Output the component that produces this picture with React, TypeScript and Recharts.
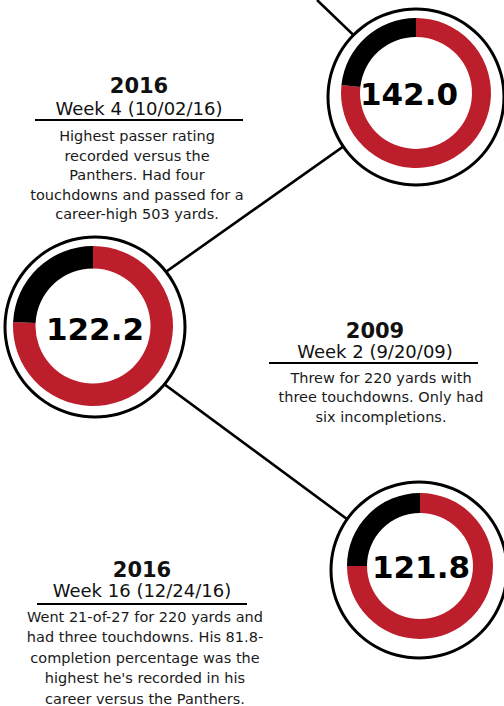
import React from 'react';
import { LineChart, Line, XAxis, YAxis, PieChart, Pie, Cell, Label } from 'recharts';

const W = 504;
const H = 706;

// Passer ratings shown inside the rings, top to bottom
const ratings = ['142.0', '122.2', '121.8'];
const redShare = [76.7, 75.8, 75.0];
const blackShare = [23.3, 24.2, 25.0];

const seasons = ['2016', '2009', '2016'];
const games = ['Week 4 (10/02/16)', 'Week 2 (9/20/09)', 'Week 16 (12/24/16)'];
const notes = [
  ['Highest passer rating', 'recorded versus the', 'Panthers. Had four', 'touchdowns and passed for a', 'career-high 503 yards.'],
  ['Threw for 220 yards with', 'three touchdowns. Only had', 'six incompletions.'],
  ['Went 21-of-27 for 220 yards and', 'had three touchdowns. His 81.8-', 'completion percentage was the', "highest he's recorded in his", 'career versus the Panthers.'],
];

const RED = '#BC1E2B';
const FONT = '"DejaVu Sans", Verdana, sans-serif';

// layout: where each ring sits on the page
const RINGS = [
  { cx: 416, cy: 93, inner: 56, outer: 75, fx: 416, fy: 97, fr: 88, dx: -7, dy: 12 },
  { cx: 93, cy: 326, inner: 57.5, outer: 80, fx: 95, fy: 327, fr: 90, dx: 2, dy: 14 },
  { cx: 420, cy: 566, inner: 53, outer: 73, fx: 419, fy: 570, fr: 88, dx: 1, dy: 12 },
];

// timeline connector running behind the rings (page pixels)
const CONNECTOR = [
  { x: 317, y: 0 },
  { x: 416, y: 95 },
  { x: 95, y: 322 },
  { x: 95, y: 333 },
  { x: 420, y: 573 },
];

// layout of the caption blocks
const BLOCKS = [
  { x: 139, bodyX: 137, yearY: 93, gameY: 115, ruleY: 120, x1: 35, x2: 243, bodyY: 141, lh: 19.6 },
  { x: 375, bodyX: 381, yearY: 338, gameY: 358, ruleY: 363, x1: 269, x2: 478, bodyY: 382.5, lh: 19.5 },
  { x: 142, bodyX: 145, yearY: 577, gameY: 597, ruleY: 604, x1: 37, x2: 247, bodyY: 621.5, lh: 20.5 },
];

export default function App() {
  return (
    <div style={{ position: 'absolute', left: 0, top: 0, width: W, height: H, background: '#fff', overflow: 'hidden' }}>
      {/* connector line */}
      <div style={{ position: 'absolute', left: 0, top: 0 }}>
        <LineChart width={W} height={H} data={CONNECTOR} margin={{ top: 0, right: 0, bottom: 0, left: 0 }}>
          <XAxis type="number" dataKey="x" domain={[0, W]} hide />
          <YAxis type="number" domain={[0, H]} reversed hide />
          <Line
            type="linear"
            dataKey="y"
            stroke="#000"
            strokeWidth={2.6}
            dot={false}
            activeDot={false}
            isAnimationActive={false}
          />
        </LineChart>
      </div>

      {/* rings */}
      <div style={{ position: 'absolute', left: 0, top: 0 }}>
        <PieChart width={W} height={H} margin={{ top: 0, right: 0, bottom: 0, left: 0 }}>
          {RINGS.map((r, i) => [
            <Pie
              key={`bg${i}`}
              data={[{ value: 1 }]}
              dataKey="value"
              cx={r.fx}
              cy={r.fy}
              innerRadius={0}
              outerRadius={r.fr}
              fill="#fff"
              stroke="none"
              isAnimationActive={false}
            />,
            <Pie
              key={`frame${i}`}
              data={[{ value: 1 }]}
              dataKey="value"
              cx={r.fx}
              cy={r.fy}
              innerRadius={r.fr - 1.5}
              outerRadius={r.fr + 1.5}
              fill="#000"
              stroke="none"
              isAnimationActive={false}
            />,
            <Pie
              key={`ring${i}`}
              data={[
                { name: 'rating', value: redShare[i] },
                { name: 'rest', value: blackShare[i] },
              ]}
              dataKey="value"
              cx={r.cx}
              cy={r.cy}
              innerRadius={r.inner}
              outerRadius={r.outer}
              startAngle={90}
              endAngle={-270}
              stroke="none"
              isAnimationActive={false}
            >
              <Cell fill={RED} />
              <Cell fill="#000" />
              <Label
                position="center"
                content={() => (
                  <text
                    x={r.cx + r.dx}
                    y={r.cy + r.dy}
                    textAnchor="middle"
                    fontFamily={FONT}
                    fontWeight="bold"
                    fontSize={31}
                    fill="#000"
                  >
                    {ratings[i]}
                  </text>
                )}
              />
            </Pie>,
          ])}
        </PieChart>
      </div>

      {/* captions */}
      <svg width={W} height={H} style={{ position: 'absolute', left: 0, top: 0 }} fontFamily={FONT}>
        {BLOCKS.map((b, i) => (
          <g key={i}>
            <text x={b.x} y={b.yearY} textAnchor="middle" fontWeight="bold" fontSize={21} fill="#111">
              {seasons[i]}
            </text>
            <text x={b.x} y={b.gameY} textAnchor="middle" fontSize={18} fill="#111">
              {games[i]}
            </text>
            <line x1={b.x1} x2={b.x2} y1={b.ruleY} y2={b.ruleY} stroke="#000" strokeWidth={2} />
            {notes[i].map((t, j) => (
              <text key={j} x={b.bodyX} y={b.bodyY + j * b.lh} textAnchor="middle" fontSize={14.5} fill="#1a1a1a">
                {t}
              </text>
            ))}
          </g>
        ))}
      </svg>
    </div>
  );
}
